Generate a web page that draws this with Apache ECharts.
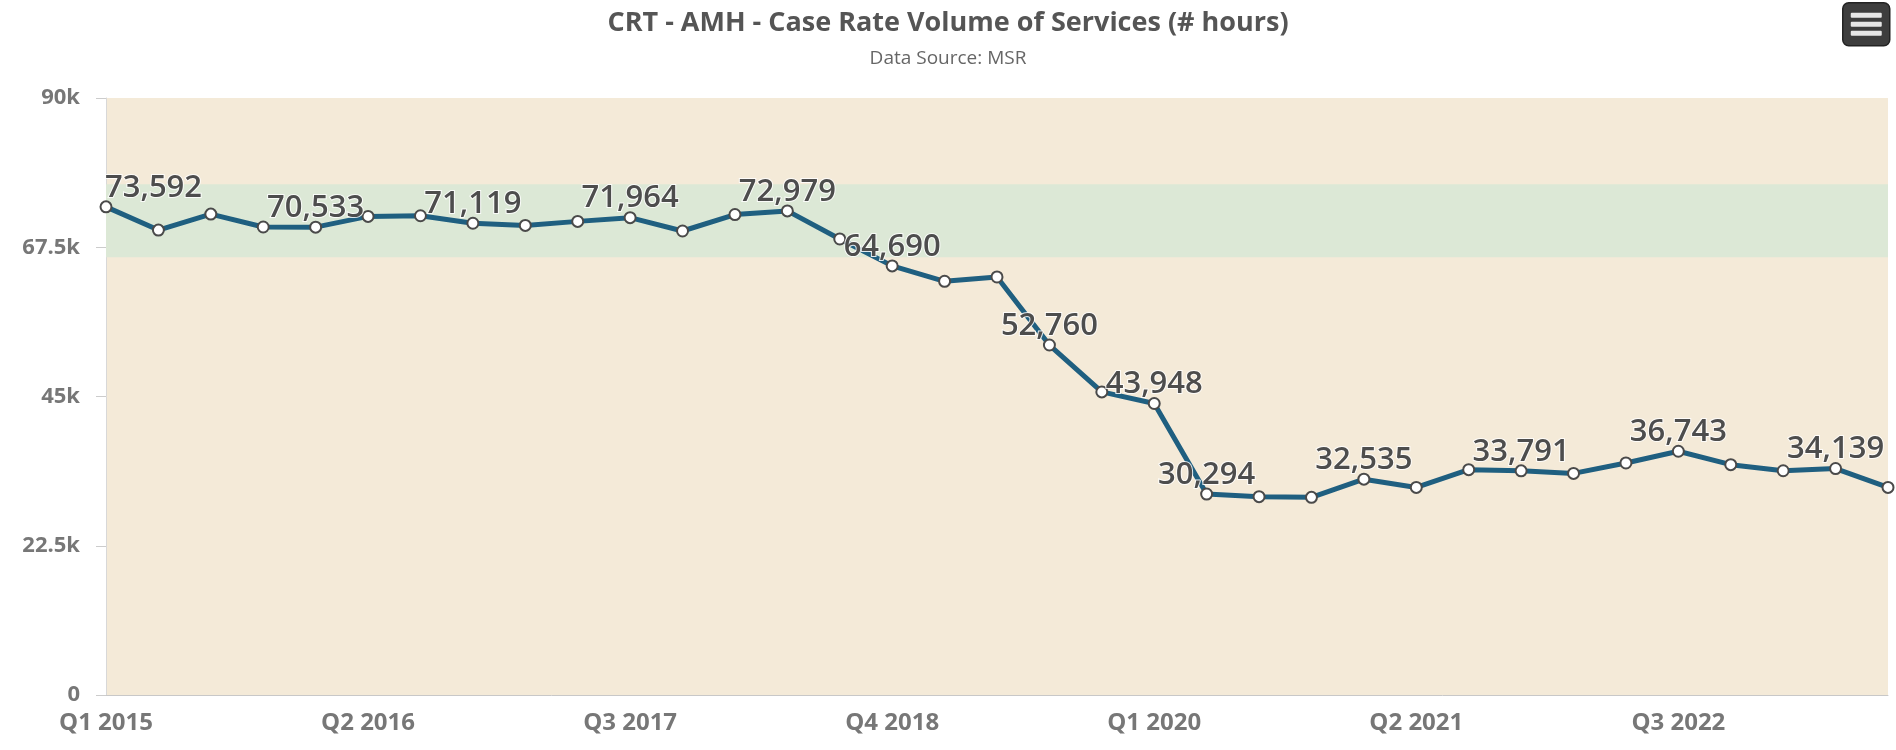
<!DOCTYPE html>
<html>
<head>
<meta charset="utf-8">
<script src="https://cdn.jsdelivr.net/npm/echarts@6/dist/echarts.min.js"></script>
<style>
  html, body { margin: 0; padding: 0; background: #fff; }
  #chart { width: 1896px; height: 750px; }
</style>
</head>
<body>
<div id="chart"></div>
<script>
var titleText = 'CRT - AMH - Case Rate Volume of Services (# hours)';
var subtitleText = 'Data Source: MSR';

var categories = [
  'Q1 2015','Q2 2015','Q3 2015','Q4 2015',
  'Q1 2016','Q2 2016','Q3 2016','Q4 2016',
  'Q1 2017','Q2 2017','Q3 2017','Q4 2017',
  'Q1 2018','Q2 2018','Q3 2018','Q4 2018',
  'Q1 2019','Q2 2019','Q3 2019','Q4 2019',
  'Q1 2020','Q2 2020','Q3 2020','Q4 2020',
  'Q1 2021','Q2 2021','Q3 2021','Q4 2021',
  'Q1 2022','Q2 2022','Q3 2022','Q4 2022',
  'Q1 2023','Q2 2023','Q3 2023'
];

var hoursValues = [
  73592, 70090, 72500, 70550,
  70533, 72150, 72250, 71119,
  70790, 71400, 71964, 69950,
  72430, 72979, 68750, 64690,
  62370, 63020, 52760, 45690,
  43948, 30294, 29900, 29800,
  32535, 31290, 33970, 33791,
  33410, 34980, 36743, 34720,
  33810, 34139, 31290
];

// indices of points whose value label is visible in the reference
var labeledPoints = [0, 4, 7, 10, 13, 15, 18, 20, 21, 24, 27, 30, 33];

var yTicks = [0, 22500, 45000, 67500, 90000];
var bandRange = [66000, 77000];

var chart = echarts.init(document.getElementById('chart'), null, { renderer: 'canvas' });

function fmtNum(v) {
  return String(v).replace(/\B(?=(\d{3})+(?!\d))/g, ',');
}

var seriesData = hoursValues.map(function (v, i) {
  var item = { value: v };
  if (labeledPoints.indexOf(i) >= 0) {
    item.label = { show: true };
    if (i === 0) { item.label.align = 'left'; item.label.offset = [-1, 0]; }
  }
  return item;
});

var option = {
  backgroundColor: '#ffffff',
  animation: false,
  title: {
    text: titleText,
    subtext: subtitleText,
    left: 'center',
    top: 5,
    itemGap: 12,
    textStyle: { fontFamily: 'Open Sans', fontWeight: 'bold', fontSize: 27, color: '#555555' },
    subtextStyle: { fontFamily: 'Open Sans', fontWeight: 'normal', fontSize: 19, color: '#666666' }
  },
  grid: {
    left: 106, right: 8, top: 98, bottom: 55,
    show: true,
    backgroundColor: '#f4ead8',
    borderWidth: 0
  },
  xAxis: {
    type: 'category',
    data: categories,
    boundaryGap: false,
    axisLine: { show: true, lineStyle: { color: '#c8c8c8', width: 1 } },
    axisTick: { show: false },
    axisLabel: {
      interval: 4,
      margin: 16,
      fontFamily: 'Open Sans', fontWeight: 'bold', fontSize: 24, color: '#777777'
    },
    splitLine: { show: false }
  },
  yAxis: {
    type: 'value',
    min: yTicks[0],
    max: yTicks[yTicks.length - 1],
    interval: yTicks[1] - yTicks[0],
    axisLine: { show: true, lineStyle: { color: '#d8d8d8', width: 1 } },
    axisTick: { show: true, length: 10, lineStyle: { color: '#cccccc' } },
    axisLabel: {
      margin: 26,
      fontFamily: 'Open Sans', fontWeight: 'bold', fontSize: 22, color: '#777777',
      formatter: function (v) { return v === 0 ? '0' : (v / 1000) + 'k'; }
    },
    splitLine: { show: false }
  },
  series: [{
    type: 'line',
    data: seriesData,
    symbol: 'circle',
    symbolSize: 11,
    showAllSymbol: true,
    lineStyle: { color: '#1f5f80', width: 5 },
    itemStyle: { color: '#ffffff', borderColor: '#4a4a4a', borderWidth: 2 },
    label: {
      show: false,
      position: 'top',
      distance: -3,
      fontFamily: 'Open Sans', fontWeight: 600, fontSize: 31, color: '#4d4d4d',
      textBorderColor: 'rgba(255,255,255,0.85)', textBorderWidth: 2,
      formatter: function (p) { return fmtNum(p.value); }
    },
    markArea: {
      silent: true,
      itemStyle: { color: '#dce8d6' },
      data: [[{ yAxis: bandRange[0] }, { yAxis: bandRange[1] }]]
    },
    z: 3
  }],
  graphic: [{
    type: 'group',
    left: 1842,
    top: 2,
    children: [
      { type: 'rect', shape: { x: 0, y: 0, width: 47, height: 43, r: 6 },
        style: { fill: '#3d3d3d', stroke: '#222', lineWidth: 1.5 } },
      { type: 'rect', shape: { x: 8, y: 10, width: 31, height: 5, r: 1 }, style: { fill: '#e6e6e6' } },
      { type: 'rect', shape: { x: 8, y: 19, width: 31, height: 5, r: 1 }, style: { fill: '#e6e6e6' } },
      { type: 'rect', shape: { x: 8, y: 28, width: 31, height: 5, r: 1 }, style: { fill: '#e6e6e6' } }
    ]
  }]
};

chart.setOption(option);
</script>
</body>
</html>
